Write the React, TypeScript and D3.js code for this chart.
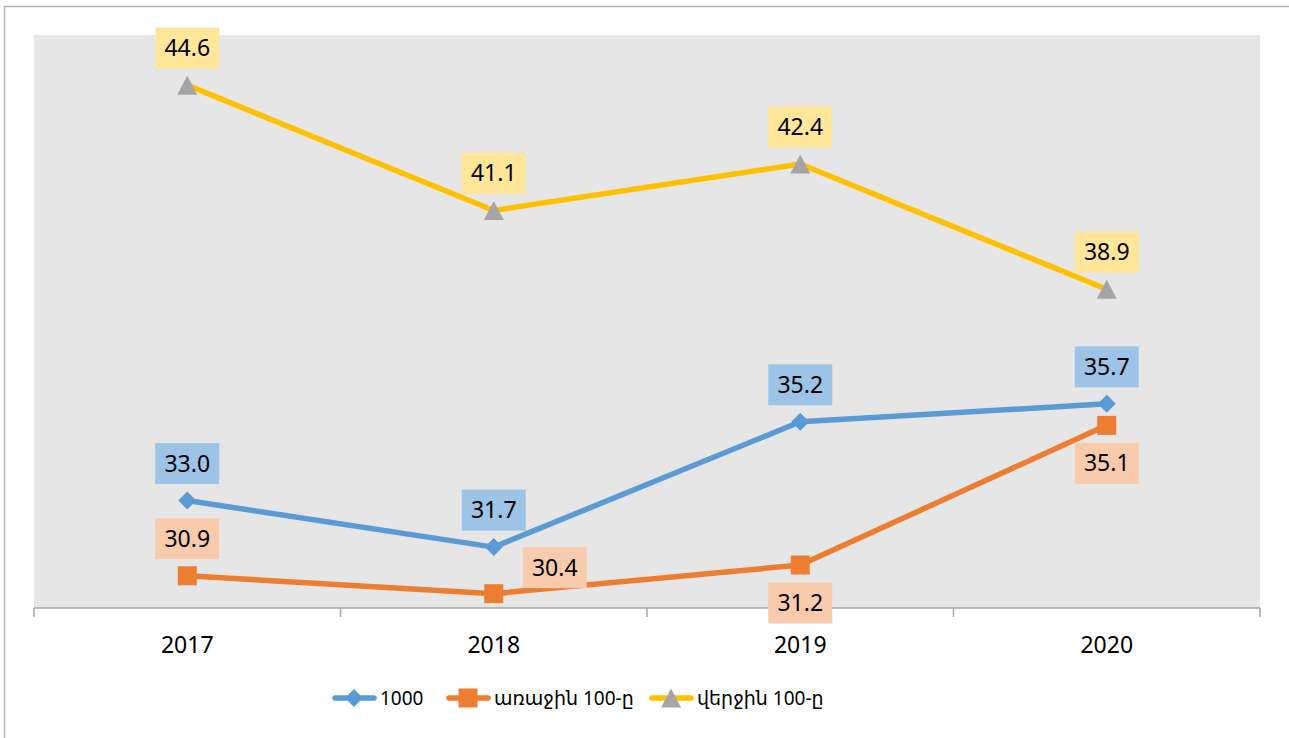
import React from 'react';
import * as d3 from 'd3';

const YEARS = ['2017', '2018', '2019', '2020'];
const TOP_1000 = [33.0, 31.7, 35.2, 35.7];
const FIRST_100 = [30.9, 30.4, 31.2, 35.1];
const LAST_100 = [44.6, 41.1, 42.4, 38.9];

const SERIES_NAMES = ['1000', 'առաջին 100-ը', 'վերջին 100-ը'];
// where each value label sits relative to its point
const LABEL_SIDE_1000 = ['above', 'above', 'above', 'above'];
const LABEL_SIDE_FIRST = ['above', 'right', 'below', 'below'];
const LABEL_SIDE_LAST = ['above', 'above', 'above', 'above'];

const W = 1289;
const H = 738;
const FONT = '"Noto Sans", "DejaVu Sans", sans-serif';

type Marker = 'diamond' | 'square' | 'triangle';

const series = [
  { name: SERIES_NAMES[0], values: TOP_1000, sides: LABEL_SIDE_1000, color: '#5B9BD5', markerColor: '#5B9BD5', labelFill: '#9DC3E6', marker: 'diamond' as Marker },
  { name: SERIES_NAMES[1], values: FIRST_100, sides: LABEL_SIDE_FIRST, color: '#ED7D31', markerColor: '#ED7D31', labelFill: '#F8CBAD', marker: 'square' as Marker },
  { name: SERIES_NAMES[2], values: LAST_100, sides: LABEL_SIDE_LAST, color: '#FFC000', markerColor: '#A5A5A5', labelFill: '#FFE699', marker: 'triangle' as Marker },
];

function markerPath(type: Marker, cx: number, cy: number): string {
  if (type === 'diamond') {
    const r = 9;
    return `M${cx},${cy - r}L${cx + r},${cy}L${cx},${cy + r}L${cx - r},${cy}Z`;
  }
  if (type === 'square') {
    const r = 9.5;
    return `M${cx - r},${cy - r}h${2 * r}v${2 * r}h${-2 * r}Z`;
  }
  return `M${cx},${cy - 9.5}L${cx + 10},${cy + 9.5}L${cx - 10},${cy + 9.5}Z`;
}

export default function App() {
  const plot = { left: 34, right: 1260, top: 35, bottom: 608 };

  const x = d3.scaleBand<string>().domain(YEARS).range([plot.left, plot.right]).padding(0);
  const y = d3.scaleLinear().domain([30, 46]).range([plot.bottom, plot.top]);
  const cx = (d: string) => (x(d) as number) + x.bandwidth() / 2;

  const line = d3.line<number>()
    .x((_, i) => cx(YEARS[i]))
    .y((v) => y(v));

  const boundaries = YEARS.map((d) => x(d) as number).concat([plot.right]);

  const boxW = 64;
  const boxH = 41;

  const legendItems = [
    { lineX: 333, textX: 380 },
    { lineX: 447, textX: 494 },
    { lineX: 650, textX: 697 },
  ];
  const legendY = 698;

  return (
    <div style={{ position: 'absolute', left: 0, top: 0 }}>
      <svg width={W} height={H} style={{ display: 'block' }} fontFamily={FONT}>
        <rect x={0} y={0} width={W} height={H} fill="#ffffff" />
        <rect x={4.5} y={6.5} width={W + 10} height={H + 10} fill="none" stroke="#B4B4B4" strokeWidth={1.5} />

        <rect x={plot.left} y={plot.top} width={plot.right - plot.left} height={plot.bottom - plot.top} fill="#E7E6E6" />

        {/* x axis */}
        <line x1={plot.left} x2={plot.right} y1={plot.bottom} y2={plot.bottom} stroke="#A6A6A6" strokeWidth={1.5} />
        {boundaries.map((b, i) => (
          <line key={i} x1={b} x2={b} y1={plot.bottom} y2={plot.bottom + 9} stroke="#A6A6A6" strokeWidth={1.5} />
        ))}
        {YEARS.map((d) => (
          <text key={d} x={cx(d)} y={653} textAnchor="middle" fontSize={23} fill="#000">{d}</text>
        ))}

        {/* lines */}
        {series.map((s) => (
          <path key={s.name} d={line(s.values) || ''} fill="none" stroke={s.color} strokeWidth={5.5} strokeLinejoin="round" />
        ))}
        {series.map((s) => s.values.map((v, i) => (
          <path key={s.name + i} d={markerPath(s.marker, cx(YEARS[i]), y(v))} fill={s.markerColor} />
        )))}

        {/* value labels */}
        {series.map((s) => s.values.map((v, i) => {
          const px = cx(YEARS[i]);
          const py = y(v);
          let bx = px;
          let by = py - 37;
          if (s.sides[i] === 'below') by = py + 38;
          if (s.sides[i] === 'right') { bx = px + 61; by = py - 26; }
          return (
            <g key={'l' + s.name + i}>
              <rect x={bx - boxW / 2} y={by - boxH / 2} width={boxW} height={boxH} fill={s.labelFill} />
              <text x={bx} y={by + 8} textAnchor="middle" fontSize={23} fill="#000">{v.toFixed(1)}</text>
            </g>
          );
        }))}

        {/* legend */}
        {series.map((s, i) => {
          const it = legendItems[i];
          return (
            <g key={'lg' + s.name}>
              <line x1={it.lineX + 2} x2={it.lineX + 41} y1={legendY} y2={legendY} stroke={s.color} strokeWidth={5.5} strokeLinecap="round" />
              <path d={markerPath(s.marker, it.lineX + 21, legendY)} fill={s.markerColor} />
              <text x={it.textX} y={legendY + 7} fontSize={19} fill="#000">{s.name}</text>
            </g>
          );
        })}
      </svg>
    </div>
  );
}
